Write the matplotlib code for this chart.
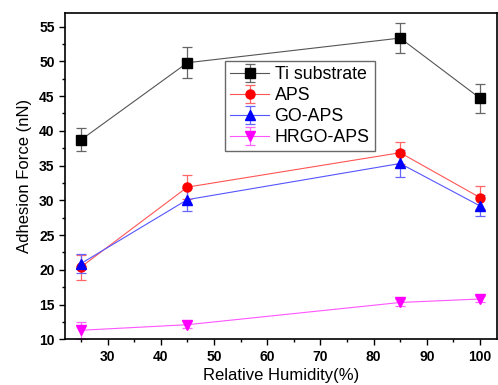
import matplotlib.pyplot as plt
from matplotlib.ticker import MultipleLocator

plt.rcParams['font.family'] = ['Liberation Sans', 'DejaVu Sans']

# Relative humidity (%) and adhesion force (nN) with error bars
humidity = [25, 45, 85, 100]

ti_force = [38.7, 49.8, 53.35, 44.7]
ti_err = [1.65, 2.2, 2.2, 2.1]

aps_force = [20.4, 31.9, 36.85, 30.4]
aps_err = [1.8, 1.7, 1.6, 1.6]

go_force = [20.9, 30.1, 35.3, 29.2]
go_err = [1.35, 1.7, 1.9, 1.5]

hrgo_force = [11.3, 12.1, 15.3, 15.8]
hrgo_err = [1.2, 0.5, 0.5, 0.4]

labels = ["Ti substrate", "APS", "GO-APS", "HRGO-APS"]

fig = plt.figure(figsize=(4.98, 3.85), dpi=100)
ax = fig.add_axes([0.1305, 0.1187, 0.8675, 0.8483])

series = [
    (ti_force, ti_err, "s", "black", "#555555", "#666666"),
    (aps_force, aps_err, "o", "red", "#ff5555", "#ff6666"),
    (go_force, go_err, "^", "blue", "#5555ff", "#6666ff"),
    (hrgo_force, hrgo_err, "v", "magenta", "#ff55ff", "#ff66ff"),
]

for (y, e, m, mc, lc, ec), lab in zip(series, labels):
    ax.errorbar(humidity, y, yerr=e, marker=m, markersize=6.5, color=lc,
                mfc=mc, mec=mc, lw=0.8, ecolor=ec, elinewidth=0.9,
                capsize=3.5, capthick=0.9, label=lab)

ax.set_xlim(22, 103.2)
ax.set_ylim(10, 57)
ax.xaxis.set_major_locator(MultipleLocator(10))
ax.xaxis.set_minor_locator(MultipleLocator(5))
ax.yaxis.set_major_locator(MultipleLocator(5))
ax.yaxis.set_minor_locator(MultipleLocator(2.5))
ax.tick_params(which="both", direction="out", top=False, right=False)
ax.tick_params(which="major", length=4, width=1)
ax.tick_params(which="minor", length=2.5, width=1)
for lbl in ax.get_xticklabels() + ax.get_yticklabels():
    lbl.set_fontweight("bold")
    lbl.set_fontsize(10)
for sp in ax.spines.values():
    sp.set_linewidth(1.2)

ax.set_xlabel("Relative Humidity(%)", fontsize=12, labelpad=3)
ax.set_ylabel("Adhesion Force (nN)", fontsize=12, labelpad=5)

leg = ax.legend(loc="upper left", bbox_to_anchor=(0.37, 0.852), fontsize=12.8,
                frameon=True, fancybox=False, edgecolor="#444444",
                handlelength=2.2, handletextpad=0.3, borderpad=0.3,
                labelspacing=0.22, borderaxespad=0)
leg.get_frame().set_linewidth(1.0)

fig.savefig("out.png", dpi=100)
